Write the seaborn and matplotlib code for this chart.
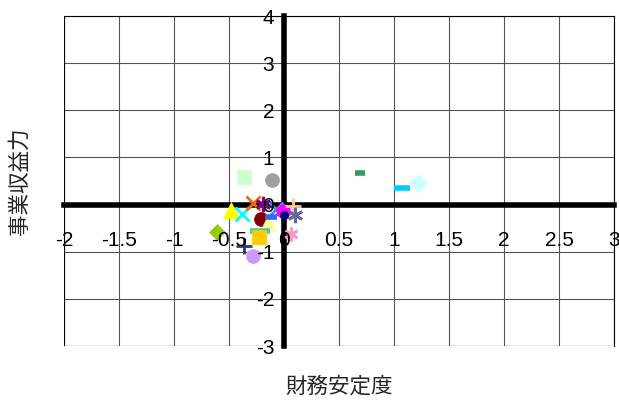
import pandas as pd
import matplotlib.pyplot as plt
import seaborn as sns

sns.set_theme(style="white")
plt.rcParams['font.family'] = ['Liberation Sans', 'Noto Sans CJK JP', 'DejaVu Sans']

# dados (財務安定度 x 事業収益力)
pos_x = [-0.36, -0.11, 0.69, 1.07, 1.215, -0.48, -0.385, -0.28, -0.19, -0.21, -0.145, -0.22,
         -0.23, -0.36, -0.28, -0.61, -0.07, -0.12, -0.01, 0.0, 0.08, 0.10, 0.06]
pos_y = [0.59, 0.53, 0.67, 0.35, 0.46, -0.11, -0.20, 0.04, 0.02, -0.30, -0.40, -0.55,
         -0.69, -0.88, -1.08, -0.59, -0.10, -0.27, -0.13, -0.23, -0.02, -0.21, -0.62]
cores = ['#ccffcc', '#a0a0a0', '#339966', '#00ccff', '#ccffff', '#ffff00', '#00ffff', '#ff6600',
         '#800080', '#800000', '#ffff99', '#33cccc', '#ffcc00', '#1f3f7f', '#cc99ff', '#99cc00',
         '#3399ff', '#3366ff', '#ff00ff', '#000080', '#ffcc99', '#666699', '#ff99cc']
marcadores = ['s', 'o', '_', '_', 'D', '^', 'x', 'x', (6, 2, 0), 'o', '^', '_',
              's', '+', 'o', 'D', 'x', '_', 'h', 'o', '+', (6, 2, 0), (6, 2, 0)]
tamanhos = [10, 10, 7, 11, 9, 11, 10, 10, 11, 10, 11, 14, 10, 11, 10, 8, 10, 8, 11, 6, 11, 11, 10]

xticks = [-2, -1.5, -1, -0.5, 0, 0.5, 1, 1.5, 2, 2.5, 3]
xlabels = ['-2', '-1.5', '-1', '-0.5', '0', '0.5', '1', '1.5', '2', '2.5', '3']
yticks = [-3, -2, -1, 0, 1, 2, 3, 4]
ylabels = ['-3', '-2', '-1', '0', '1', '2', '3', '4']

df = pd.DataFrame({'x': pos_x, 'y': pos_y})

fig = plt.figure(figsize=(6.19, 4.01), dpi=100)
ax = fig.add_axes([0.1034, 0.137, 0.8886, 0.823])

for i, row in df.iterrows():
    m = marcadores[i]
    linha = m in ['x', '+', '_'] or isinstance(m, tuple)
    ax.plot(row['x'], row['y'], linestyle='none', marker=m, markersize=tamanhos[i],
            color=cores[i], markeredgecolor=cores[i],
            markeredgewidth=(2.0 if m != '_' else 4) if linha else 0.5, zorder=4)

ax.set_xlim(-2, 3)
ax.set_ylim(-3, 4)
ax.set_xticks(xticks)
ax.set_xticklabels(xlabels)
ax.set_yticks(yticks)
ax.set_yticklabels(ylabels)

# grade atrás dos pontos, rótulos por cima
ax.vlines(xticks, -3, 4, color='#555555', linewidth=0.8, zorder=1)
ax.hlines(yticks, -2, 3, color='#555555', linewidth=0.8, zorder=1)
ax.xaxis.set_zorder(6)
ax.yaxis.set_zorder(6)

# eixos no zero
for lado in ['top', 'right']:
    ax.spines[lado].set_color('black')
    ax.spines[lado].set_linewidth(0.8)
ax.spines['left'].set_position(('data', 0))
ax.spines['bottom'].set_position(('data', 0))
ax.spines['left'].set_linewidth(4)
ax.spines['bottom'].set_linewidth(4)
ax.spines['left'].set_color('black')
ax.spines['bottom'].set_color('black')
ax.spines['left'].set_zorder(3)
ax.spines['bottom'].set_zorder(3)
ax.axvline(-2, color='black', lw=0.8)
ax.axhline(-3, color='black', lw=0.8)

ax.tick_params(axis='x', direction='inout', length=6, width=5, pad=16, labelsize=15, colors='black')
ax.tick_params(axis='y', direction='inout', length=6, width=5, pad=4, labelsize=15, colors='black')

ax.set_xlabel('財務安定度', fontsize=15.5, family=['Noto Sans CJK JP'])
ax.set_ylabel('事業収益力', fontsize=15.5, family=['Noto Sans CJK JP'])
ax.xaxis.set_label_coords(0.5, -0.09)
ax.yaxis.set_label_coords(-0.06, 0.5)

plt.savefig('out.png', dpi=100)
